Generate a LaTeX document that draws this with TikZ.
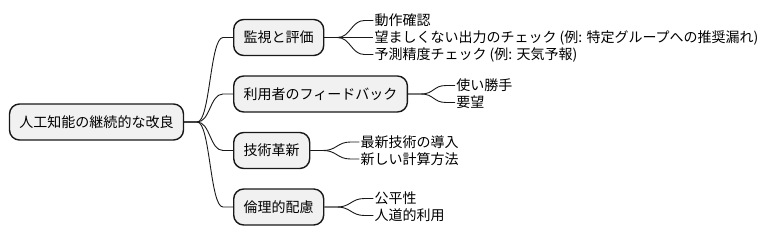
\documentclass[tikz,border=0pt]{standalone}
\usepackage{fontspec}
\setmainfont{Noto Sans CJK JP}
\usetikzlibrary{calc}
\definecolor{mmfill}{HTML}{F1F1F1}
\definecolor{mmline}{HTML}{181818}
\newcommand{\mmlink}[4]{%
  \draw[conn] (#1.east) -- ++(#3,0) .. controls ($(#1.east)+(#3+13,0)$) and ($(#2.west)+(-#4-13,0)$) .. ($(#2.west)+(-#4,0)$) -- (#2.west);}
\begin{document}
\begin{tikzpicture}[x=1pt,y=-1pt,
  mmbox/.style={draw=mmline,fill=mmfill,line width=1.4pt,rounded corners=10pt,
    inner xsep=10pt,inner ysep=0pt,minimum height=36pt,
    font=\fontsize{14}{17}\selectfont},
  leaf/.style={anchor=west,inner xsep=1pt,inner ysep=0pt,font=\fontsize{14}{17}\selectfont},
  conn/.style={draw=mmline,line width=0.9pt}]
\useasboundingbox (0,0) rectangle (776,246);

\node[mmbox] (root) at (96.5,122) {人工知能の継続的な改良};
\node[mmbox,anchor=west] (b1) at (233,37.5) {監視と評価};
\node[mmbox,anchor=west] (b2) at (233,94) {利用者のフィードバック};
\node[mmbox,anchor=west] (b3) at (233,150.5) {技術革新};
\node[mmbox,anchor=west] (b4) at (233,207) {倫理的配慮};

\node[leaf] (l11) at ($(b1.east)+(49,-17)$) {動作確認};
\node[leaf] (l12) at ($(b1.east)+(49,0)$) {望ましくない出力のチェック (例: 特定グループへの推奨漏れ)};
\node[leaf] (l13) at ($(b1.east)+(49,17)$) {予測精度チェック (例: 天気予報)};

\node[leaf] (l21) at ($(b2.east)+(47,-8.5)$) {使い勝手};
\node[leaf] (l22) at ($(b2.east)+(47,8.5)$) {要望};

\node[leaf] (l31) at ($(b3.east)+(49,-8.5)$) {最新技術の導入};
\node[leaf] (l32) at ($(b3.east)+(49,8.5)$) {新しい計算方法};

\node[leaf] (l41) at ($(b4.east)+(49,-8.5)$) {公平性};
\node[leaf] (l42) at ($(b4.east)+(49,8.5)$) {人道的利用};

\foreach \b in {b1,b2,b3,b4} {\mmlink{root}{\b}{13}{10}}
\foreach \l in {l11,l12,l13} {\mmlink{b1}{\l}{13}{9}}
\foreach \l in {l21,l22} {\mmlink{b2}{\l}{13}{9}}
\foreach \l in {l31,l32} {\mmlink{b3}{\l}{13}{9}}
\foreach \l in {l41,l42} {\mmlink{b4}{\l}{13}{9}}
\end{tikzpicture}
\end{document}
